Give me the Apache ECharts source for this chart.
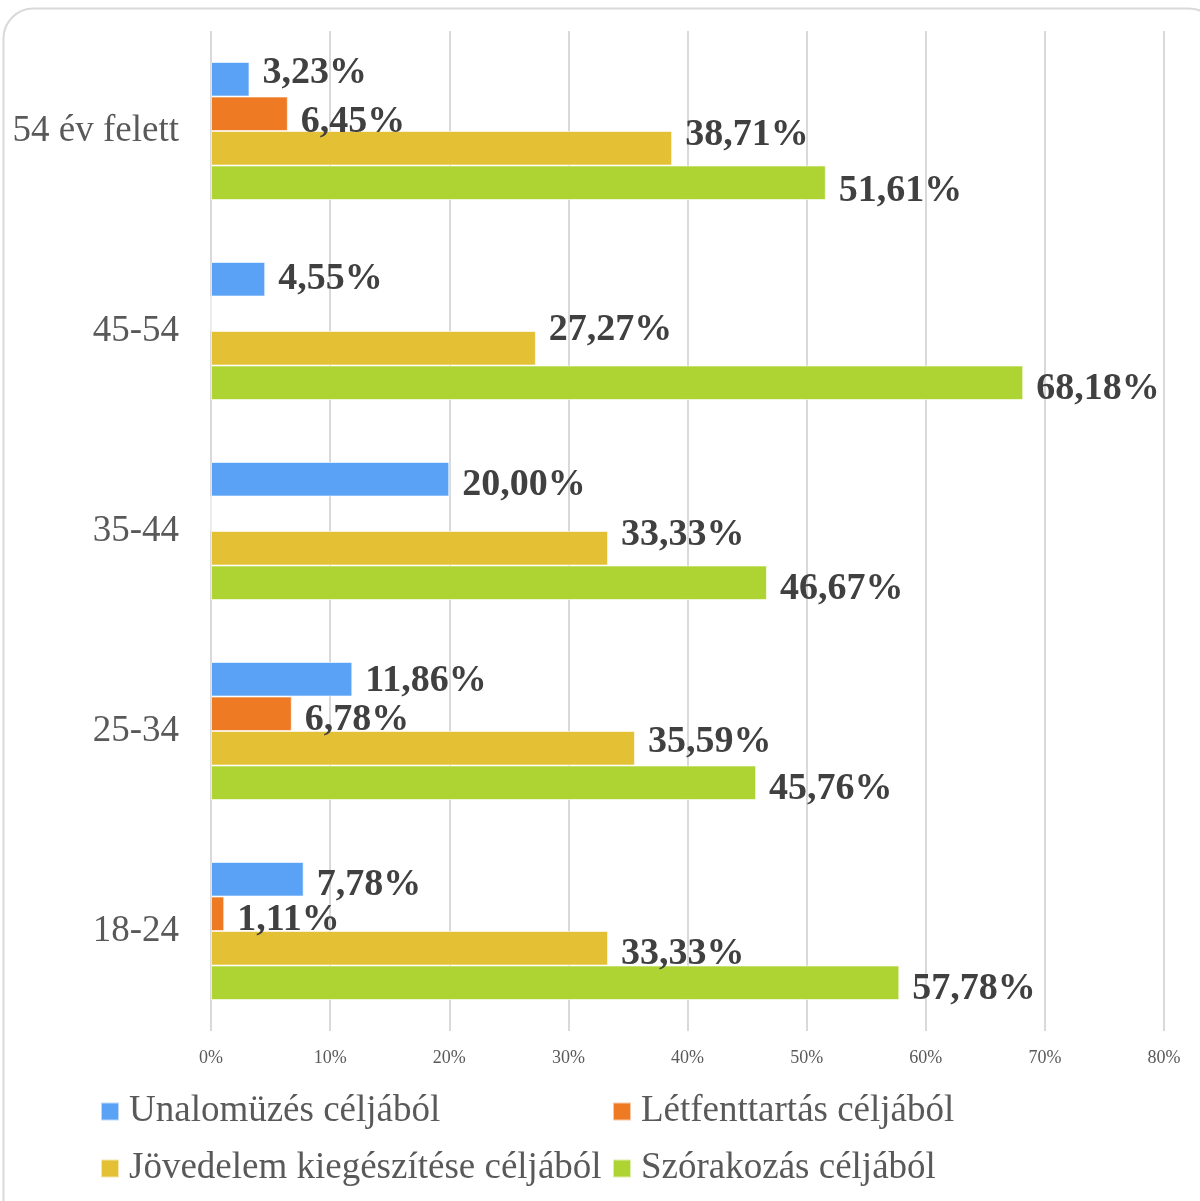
<!DOCTYPE html>
<html><head><meta charset="utf-8">
<script src="https://cdn.jsdelivr.net/npm/echarts@6/dist/echarts.min.js"></script>
<style>html,body{margin:0;padding:0;background:#fff}#c{width:1200px;height:1201px}</style>
</head><body><div id="c"></div>
<script>
const categories = ["18-24", "25-34", "35-44", "45-54", "54 év felett"];
const seriesNames = ["Unalomüzés céljából", "Létfenttartás céljából", "Jövedelem kiegészítése céljából", "Szórakozás céljából"];
const unalom = [7.78, 11.86, 20.00, 4.55, 3.23];
const letfenn = [1.11, 6.78, 0, 0, 6.45];
const jovedelem = [33.33, 35.59, 33.33, 27.27, 38.71];
const szorakozas = [57.78, 45.76, 46.67, 68.18, 51.61];
const xTicks = [0, 10, 20, 30, 40, 50, 60, 70, 80];

const colors = ["#5AA2F5", "#EE7B24", "#E4C034", "#ADD433"];
const values = [unalom, letfenn, jovedelem, szorakozas];
const serif = "'Liberation Serif', 'Times New Roman', serif";
// label nudges where the reference moves labels to avoid overlaps
const nudges = {"0-4": -6, "1-4": 8, "2-4": -13, "3-4": 8, "2-1": -6, "2-2": -13, "2-3": -18, "0-3": 0, "0-1": 2};

const series = values.map((arr, si) => ({
  name: seriesNames[si],
  type: 'bar',
  barGap: '0%',
  barCategoryGap: '31%',
  itemStyle: {color: colors[si], borderColor: 'rgba(255,255,255,0.6)', borderWidth: 1},
  data: arr.map((v, ci) => {
    const o = {value: v};
    const n = nudges[si + '-' + ci];
    if (n !== undefined) o.label = {offset: [0, n]};
    return o;
  }),
  label: {
    show: true, position: 'right', distance: 13, offset: [0, 6],
    fontFamily: serif, fontWeight: 'bold', fontSize: 38, color: '#404040',
    formatter: p => p.value ? p.value.toFixed(2).replace('.', ',') + '%' : ''
  }
}));

const legendText = {fontFamily: serif, fontSize: 37, lineHeight: 36, color: '#595959', padding: [0, 0, 0, 5]};
const chart = echarts.init(document.getElementById('c'));
chart.setOption({
  animation: false,
  grid: {left: 211, right: 36, top: 31, bottom: 170},
  xAxis: {
    type: 'value', min: 0, max: 80, interval: 10,
    axisLine: {show: false}, axisTick: {show: false},
    splitLine: {lineStyle: {color: '#d9d9d9', width: 2}},
    axisLabel: {formatter: v => v + '%', fontFamily: serif, fontSize: 18, color: '#595959', margin: 18}
  },
  yAxis: {
    type: 'category', data: categories,
    axisLine: {show: false}, axisTick: {show: false},
    axisLabel: {fontFamily: serif, fontSize: 37, color: '#595959', margin: 32}
  },
  legend: [
    {data: [seriesNames[0], seriesNames[2]], orient: 'vertical', left: 100, top: 1093, itemGap: 20, padding: 0,
     itemWidth: 18, itemHeight: 18, icon: 'rect', textStyle: legendText},
    {data: [seriesNames[1], seriesNames[3]], orient: 'vertical', left: 612, top: 1093, itemGap: 20, padding: 0,
     itemWidth: 18, itemHeight: 18, icon: 'rect', textStyle: legendText}
  ],
  graphic: [{type: 'rect', left: 1, top: 6, shape: {width: 1215, height: 1220, r: 30},
    style: {fill: 'none', stroke: '#d9d9d9', lineWidth: 2}, silent: true, z: -1}],
  series: series
});
</script></body></html>
